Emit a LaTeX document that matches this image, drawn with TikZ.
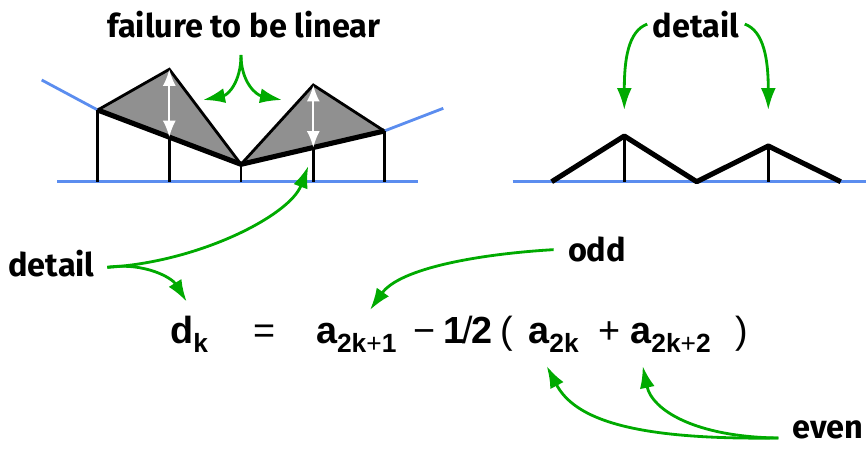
\documentclass[tikz,border=0pt]{standalone}
\usepackage{fontspec}
\setmainfont{Fira Sans}
\newfontfamily\formfont{Liberation Sans}
\usetikzlibrary{arrows.meta}
\definecolor{axisblue}{HTML}{5B8DEF}
\definecolor{pointgreen}{HTML}{00AA00}
\definecolor{wedge}{HTML}{909090}
\newcommand{\lowidx}[1]{\raisebox{-5.3pt}{\fontsize{15}{16}\selectfont #1}}
\tikzset{
 every node/.append style={font=\fontsize{18.5}{20}\selectfont\bfseries,inner sep=0pt},
 axis/.style={draw=axisblue,line width=1.6pt},
 post/.style={draw=black,line width=1.4pt},
 rim/.style={draw=black,line width=1.6pt},
 hat/.style={draw=black,line width=2.9pt,line join=round},
 pointer/.style={-{Latex[length=4.4mm,width=3mm]},draw=pointgreen,line width=1.6pt},
 gap/.style={{Latex[length=3.3mm,width=2.6mm]}-{Latex[length=3.3mm,width=2.6mm]},draw=white,line width=1.2pt},
 term/.style={font=\formfont\fontsize{21.5}{24}\selectfont\bfseries,anchor=base west},
}

\begin{document}
\begin{tikzpicture}[x=0.02cm,y=-0.02cm]
\useasboundingbox (0,0) rectangle (866,450);

% left: prediction from the even samples
\coordinate (p0) at (97.7,110);
\coordinate (p1) at (169.3,69.3);
\coordinate (p2) at (241,164.3);
\coordinate (p3) at (313.3,85);
\coordinate (p4) at (384.3,131);
\coordinate (m1) at (169.3,137.2);
\coordinate (m3) at (313.3,147.7);
\fill[wedge] (p0) -- (p1) -- (p2) -- cycle;
\fill[wedge] (p2) -- (p3) -- (p4) -- cycle;
\draw[axis] (57,181.7) -- (418,181.7);
\draw[axis] (41.7,80) -- (p0);
\draw[axis] (p4) -- (443.3,108.3);
\draw[post] (97.7,181.7) -- (p0);
\draw[post] (169.3,181.7) -- (m1);
\draw[post] (241,181.7) -- (p2);
\draw[post] (313.3,181.7) -- (m3);
\draw[post] (384.3,181.7) -- (p4);
\draw[rim] (p0) -- (p1) -- (p2) -- (p3) -- (p4);
\draw[hat] (p0) -- (p2) -- (p4);
\draw[gap] (p1) -- (m1);
\draw[gap] (p3) -- (m3);

% right: the details alone
\coordinate (q0) at (551.7,181.7);
\coordinate (q1) at (624.3,136);
\coordinate (q2) at (696.7,181.7);
\coordinate (q3) at (768.3,146);
\coordinate (q4) at (840.7,181.7);
\draw[axis] (512.7,181.7) -- (866,181.7);
\draw[post] (624.3,181.7) -- (q1);
\draw[post] (768.3,181.7) -- (q3);
\draw[hat] (q0) -- (q1) -- (q2) -- (q3) -- (q4);

% labels
\node[anchor=base] (failure) at (244,37) {failure to be linear};
\node[anchor=base] (detailtop) at (696,37) {detail};
\node[anchor=base] (detailleft) at (51.5,276.7) {detail};
\node[anchor=base] (odd) at (597,261.7) {odd};
\node[anchor=base east] (even) at (864,438) {even};

% formula
\node[term] (dk) at (170,343.3) {d\lowidx{k}};
\node[term] (eqsign) at (253,343.3) {\mdseries =};
\node[term] (aodd) at (315.7,343.3) {a\lowidx{2k{\mdseries+}1}};
\node[term] (minus) at (413,343.3) {\mdseries −};
\node[term] (half) at (443,343.3) {1\kern-1pt{\mdseries/}\kern-1pt2};
\node[term] (lpar) at (500,343.3) {\mdseries (};
\node[term] (aevenA) at (528,343.3) {a\lowidx{2k}};
\node[term] (plus) at (598,343.3) {\mdseries +};
\node[term] (aevenB) at (630,343.3) {a\lowidx{2k{\mdseries+}2}};
\node[term] (rpar) at (735,343.3) {\mdseries )};

% green pointers
\coordinate (failfork) at (241,55);
\coordinate (failL) at (203,100);
\coordinate (failR) at (282,100);
\draw[pointer] (failfork) .. controls (241,82) and (228,95) .. (failL);
\draw[pointer] (failfork) .. controls (241,82) and (256,95) .. (failR);

\coordinate (peakA) at (624.3,110);
\coordinate (peakB) at (768.3,110);
\draw[pointer] ([xshift=-3pt]detailtop.west) .. controls (628,31) and (624.3,60) .. (peakA);
\draw[pointer] ([xshift=3pt]detailtop.east) .. controls (764,31) and (768.3,60) .. (peakB);

\coordinate (gapmark) at (308.3,166);
\coordinate (dmark) at (186.7,301.7);
\draw[pointer] ([xshift=7pt,yshift=-2pt]detailleft.east) .. controls (200,262) and (290,215) .. (gapmark);
\draw[pointer] ([xshift=7pt,yshift=-2pt]detailleft.east) .. controls (145,262) and (172,278) .. (dmark);

\coordinate (oddmark) at (370,310);
\draw[pointer] ([xshift=-8pt]odd.west) .. controls (480,254) and (400,268) .. (oddmark);

\coordinate (evenmarkA) at (546.7,366);
\coordinate (evenmarkB) at (642.7,366);
\draw[pointer] ([xshift=-8pt]even.base west) .. controls (635,440) and (575,420) .. (evenmarkA);
\draw[pointer] ([xshift=-8pt]even.base west) .. controls (695,437) and (652,410) .. (evenmarkB);
\end{tikzpicture}
\end{document}
